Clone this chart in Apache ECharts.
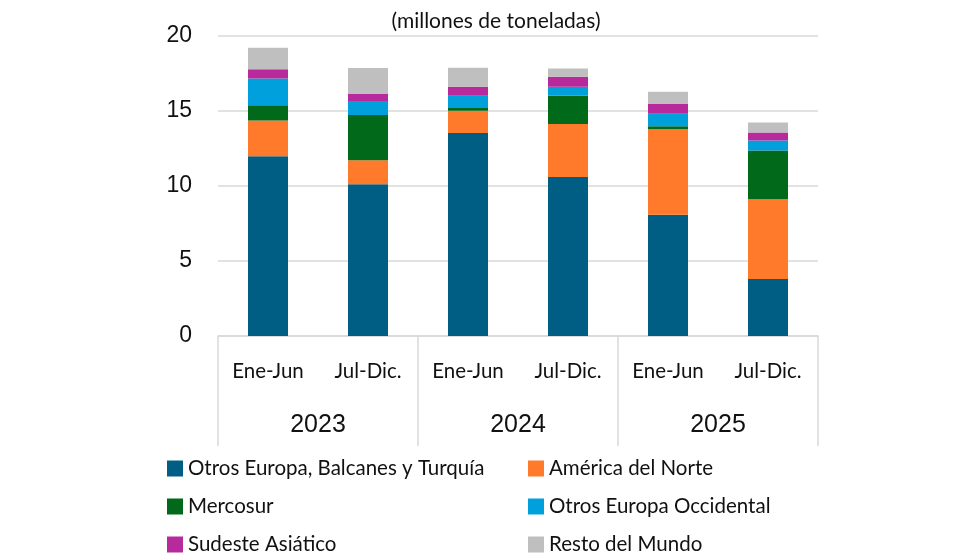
<!DOCTYPE html>
<html>
<head>
<meta charset="utf-8">
<script src="https://cdn.jsdelivr.net/npm/echarts@6/dist/echarts.min.js"></script>
<style>html,body{margin:0;padding:0;background:#fff}#c{width:980px;height:560px}</style>
</head>
<body>
<div id="c"></div>
<script>
var periods = ['Ene-Jun', 'Jul-Dic.', 'Ene-Jun', 'Jul-Dic.', 'Ene-Jun', 'Jul-Dic.'];
var years = ['2023', '2024', '2025'];
var seriesNames = ['Otros Europa, Balcanes y Turquía', 'América del Norte', 'Mercosur', 'Otros Europa Occidental', 'Sudeste Asiático', 'Resto del Mundo'];
var otrosEuropaBalcanes = [11.98, 10.11, 13.53, 10.60, 8.09, 3.80];
var americaNorte = [2.38, 1.60, 1.49, 3.53, 5.69, 5.31];
var mercosur = [1.02, 3.02, 0.18, 1.89, 0.20, 3.25];
var otrosEuropaOcc = [1.78, 0.94, 0.82, 0.60, 0.84, 0.68];
var sudesteAsiatico = [0.62, 0.46, 0.60, 0.67, 0.65, 0.52];
var restoMundo = [1.44, 1.74, 1.27, 0.55, 0.82, 0.68];
var yTicks = [0, 5, 10, 15, 20];

var colors = ['#005E85', '#FF7A2A', '#00691A', '#00A0DC', '#B8299B', '#BFBFBF'];
var allData = [otrosEuropaBalcanes, americaNorte, mercosur, otrosEuropaOcc, sudesteAsiatico, restoMundo];
var font = 'Lato';

var chart = echarts.init(document.getElementById('c'));
var series = seriesNames.map(function (n, i) {
  return {
    name: n, type: 'bar', stack: 'total', data: allData[i], barWidth: 40,
    xAxisIndex: 0, yAxisIndex: 0,
    itemStyle: { color: colors[i] }
  };
});
var legendText = { fontFamily: font, fontSize: 20.5, color: '#111' };
chart.setOption({
  animation: false,
  color: colors,
  title: {
    text: '(millones de toneladas)', left: 491, top: 6, textAlign: 'center',
    textStyle: { fontFamily: font, fontSize: 21, fontWeight: 'normal', color: '#111' }
  },
  grid: { left: 218, right: 162, top: 36, bottom: 224, containLabel: false },
  legend: [
    { data: [seriesNames[0], seriesNames[2], seriesNames[4]], orient: 'vertical', left: 162, top: 453, height: 110,
      itemWidth: 16, itemHeight: 16, itemGap: 17, icon: 'rect', textStyle: legendText, selectedMode: false },
    { data: [seriesNames[1], seriesNames[3], seriesNames[5]], orient: 'vertical', left: 523, top: 453, height: 110,
      itemWidth: 16, itemHeight: 16, itemGap: 17, icon: 'rect', textStyle: legendText, selectedMode: false }
  ],
  xAxis: [
    { type: 'category', data: periods, position: 'bottom',
      axisLine: { lineStyle: { color: '#d9d9d9', width: 1.5 } },
      axisTick: { show: false },
      axisLabel: { fontFamily: font, fontSize: 20.5, color: '#111', margin: 25, interval: 0 } },
    { type: 'category', data: years, position: 'bottom', gridIndex: 0,
      axisLine: { show: false },
      axisTick: { show: true, length: 110, lineStyle: { color: '#d9d9d9', width: 1.5 } },
      axisLabel: { fontFamily: 'Liberation Sans', fontSize: 25, color: '#111', margin: 77, interval: 0 } }
  ],
  yAxis: {
    type: 'value', min: 0, max: 20, interval: 5,
    axisLine: { show: false }, axisTick: { show: false },
    splitLine: { lineStyle: { color: '#d9d9d9', width: 1.5 } },
    axisLabel: { fontFamily: 'Liberation Sans', fontSize: 23, color: '#111', margin: 26,
      formatter: function (v) { return yTicks.indexOf(v) >= 0 ? String(v) : ''; } }
  },
  series: series
});
</script>
</body>
</html>
